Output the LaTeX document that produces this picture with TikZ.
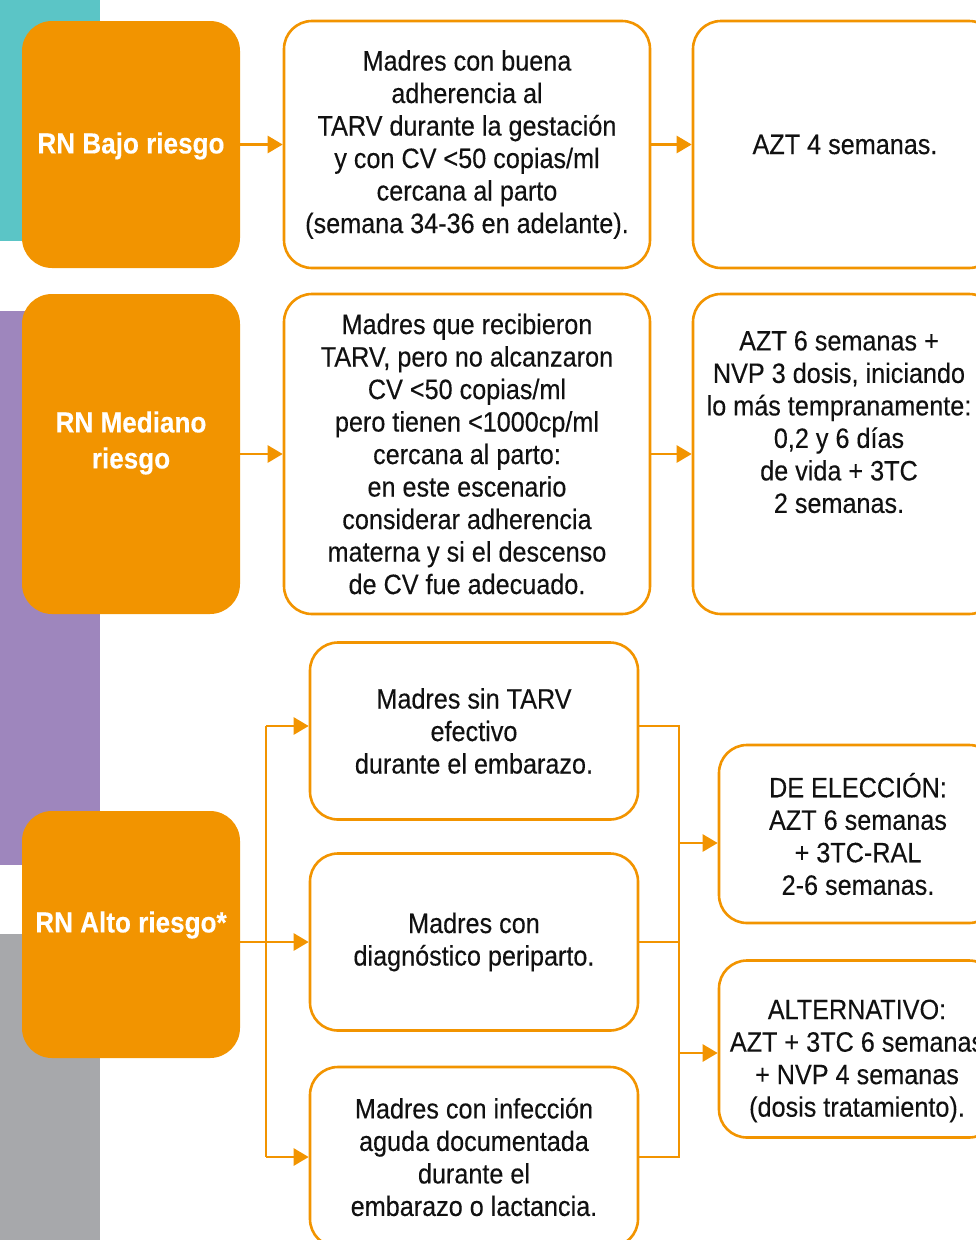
\documentclass[tikz,border=0pt]{standalone}
\usepackage{fontspec}
\setmainfont{Liberation Sans}[FakeStretch=0.9, FakeBold=0.25]
\usetikzlibrary{arrows.meta}
\definecolor{ora}{HTML}{F29400}
\definecolor{teal}{HTML}{5BC5C6}
\definecolor{lila}{HTML}{9E86BD}
\definecolor{gris}{HTML}{A7A8AB}
\definecolor{ink}{HTML}{111111}
\tikzset{
  riskbox/.style={fill=ora, rounded corners=30pt, inner sep=0pt,
    minimum width=218pt},
  risktext/.style={text=white, inner sep=0pt, align=center,
    font=\bfseries\fontsize{29}{36}\selectfont},
  infobox/.style={draw=ora, line width=2.6pt, fill=white, rounded corners=28pt,
    inner sep=0pt, align=center, text=ink,
    font=\fontsize{28}{32.5}\selectfont},
  txt/.style={align=center, text=ink, inner sep=0pt,
    font=\fontsize{28}{32.5}\selectfont},
  link/.style={draw=ora, line width=2.6pt},
  arr/.style={link, -{Triangle[length=15pt,width=17pt]}}
}
\begin{document}
\begin{tikzpicture}[x=1pt,y=-1pt]
\useasboundingbox (0,0) rectangle (976,1240);
\clip (0,0) rectangle (976,1240);

% coloured bands on the left edge
\fill[teal] (0,0) rectangle (100,241);
\fill[lila] (0,311) rectangle (100,865);
\fill[gris] (0,934) rectangle (100,1240);

% risk categories
\node[riskbox, minimum height=247pt] (b1) at (131,144.5) {};
\node[risktext] (b1t) at (131,146) {RN Bajo riesgo};
\node[riskbox, minimum height=320pt] (b2) at (131,454) {};
\node[risktext] (b2t) at (131,443) {RN Mediano\\riesgo};
\node[riskbox, minimum height=247pt] (b3) at (131,934.5) {};
\node[risktext] (b3t) at (131,925) {RN Alto riesgo*};

% low risk row
\node[infobox, minimum width=366pt, minimum height=247pt] (w1) at (467,144.5)
  {Madres con buena\\adherencia al\\TARV durante la gestación\\y con CV <50 copias/ml\\cercana al parto\\(semana 34-36 en adelante).};
\node[infobox, minimum width=304pt, minimum height=247pt] (r1) at (845,144.5)
  {AZT 4 semanas.};

% medium risk row
\node[infobox, minimum width=366pt, minimum height=320pt] (w2) at (467,454)
  {Madres que recibieron\\TARV, pero no alcanzaron\\CV <50 copias/ml\\pero tienen <1000cp/ml\\cercana al parto:\\en este escenario\\considerar adherencia\\materna y si el descenso\\de CV fue adecuado.};
\node[infobox, minimum width=304pt, minimum height=320pt] (r2) at (845,454) {};
\node[txt] (r2t) at (839,422)
  {AZT 6 semanas +\\NVP 3 dosis, iniciando\\lo más tempranamente:\\0,2 y 6 días\\de vida + 3TC\\2 semanas.};

% high risk: maternal situations
\node[infobox, minimum width=328pt, minimum height=177pt] (a1) at (474,731) {Madres sin TARV\\efectivo\\durante el embarazo.};
\node[infobox, minimum width=328pt, minimum height=177pt] (a2) at (474,942) {Madres con\\diagnóstico periparto.};
\node[infobox, minimum width=328pt, minimum height=180pt] (a3) at (474,1157) {Madres con infección\\aguda documentada\\durante el\\embarazo o lactancia.};

% high risk: treatment options
\node[infobox, minimum width=278pt, minimum height=178pt] (e1) at (858,834) {DE ELECCIÓN:\\AZT 6 semanas\\+ 3TC-RAL\\2-6 semanas.};
\node[infobox, minimum width=278pt, minimum height=177pt] (e2) at (858,1049) {};
\node[txt] (e2t) at (857,1061) {ALTERNATIVO:\\AZT + 3TC 6 semanas\\+ NVP 4 semanas\\(dosis tratamiento).};

% connectors, upper rows
\draw[arr] (b1) -- (w1);
\draw[arr] (w1) -- (r1);
\draw[arr] (b2) -- (w2);
\draw[arr] (w2) -- (r2);

% connectors, high risk
\coordinate (lt) at (266,0);
\coordinate (rt) at (679,0);
\coordinate (a1in) at ([yshift=5pt]a1.west);
\coordinate (a1out) at ([yshift=5pt]a1.east);
\coordinate (e1in) at ([yshift=-9pt]e1.west);
\coordinate (e2in) at ([yshift=-4pt]e2.west);
\draw[arr] (b3.east |- a2.west) -- (a2.west);
\draw[link] (lt |- a1in) -- (lt |- a3.west);
\draw[arr] (lt |- a1in) -- (a1in);
\draw[arr] (lt |- a3.west) -- (a3.west);
\draw[link] (a1out) -- (rt |- a1out) -- (rt |- a3.east) -- (a3.east);
\draw[link] (a2.east) -- (rt |- a2.east);
\draw[arr] (rt |- e1in) -- (e1in);
\draw[arr] (rt |- e2in) -- (e2in);
\end{tikzpicture}
\end{document}
